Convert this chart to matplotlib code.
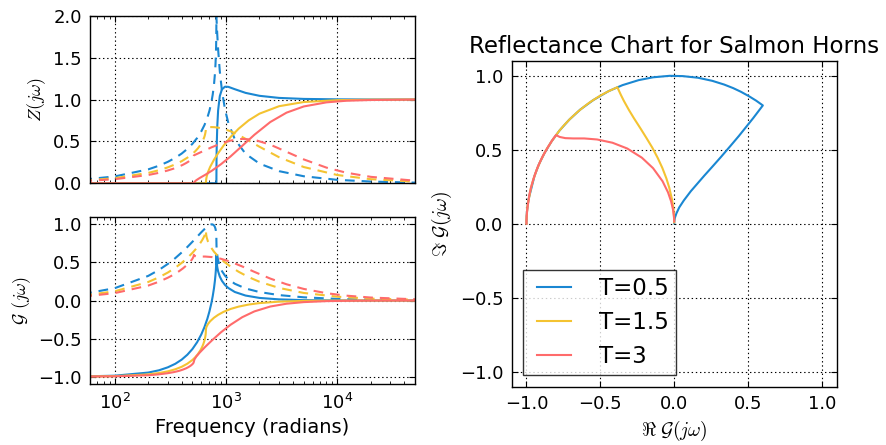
import matplotlib
matplotlib.use('Agg')
import matplotlib.pyplot as plt

# valores (frequência em rad)
T_labels = ['T=0.5', 'T=1.5', 'T=3']
colors = ['#1a87d2', '#f4c331', '#ff6b6b']

# T = 0.5
f_a = [1, 10, 25, 50, 100, 200, 250, 300, 350, 400, 450, 500, 550, 600,
       640, 680, 710, 740, 760, 780, 795, 805, 811, 815, 818, 819.5, 820,
       822, 826, 835, 850, 880, 920, 980, 1050, 1200, 1500, 2000, 3000,
       5000, 10000, 20000, 50000]
reZ_a = [0, 0, 0, 0, 0, 0, 0, 0, 0, 0, 0, 0, 0, 0,
         0, 0, 0, 0, 0, 0, 0, 0, 0, 0, 0, 0, 0,
         0.275, 0.461, 0.681, 0.872, 1.041, 1.122, 1.153, 1.151, 1.123,
         1.079, 1.044, 1.019, 1.007, 1.002, 1.000, 1.000]
imZ_a = [0.001, 0.008, 0.020, 0.041, 0.082, 0.166, 0.210, 0.256, 0.304,
         0.355, 0.411, 0.472, 0.540, 0.620, 0.694, 0.783, 0.866, 0.969,
         1.059, 1.176, 1.302, 1.422, 1.527, 1.628, 1.751, 1.868, 2.000,
         1.966, 1.903, 1.775, 1.597, 1.336, 1.103, 0.881, 0.720, 0.526,
         0.352, 0.235, 0.145, 0.084, 0.041, 0.021, 0.008]
reG_a = [-1.000, -1.000, -0.999, -0.997, -0.987, -0.946, -0.916, -0.877,
         -0.831, -0.776, -0.711, -0.636, -0.548, -0.445, -0.350, -0.240,
         -0.143, -0.031, 0.057, 0.161, 0.258, 0.338, 0.399, 0.452, 0.508,
         0.555, 0.600,
         0.536, 0.492, 0.438, 0.382, 0.314, 0.258, 0.204, 0.164, 0.112,
         0.065, 0.034, 0.015, 0.005, 0.001, 0.000, 0.000]
imG_a = [0.002, 0.016, 0.041, 0.081, 0.162, 0.323, 0.402, 0.480, 0.556,
         0.631, 0.703, 0.772, 0.836, 0.896, 0.937, 0.971, 0.990, 1.000,
         0.998, 0.987, 0.966, 0.941, 0.917, 0.892, 0.861, 0.832, 0.800,
         0.716, 0.661, 0.594, 0.528, 0.449, 0.386, 0.326, 0.280, 0.220,
         0.158, 0.111, 0.071, 0.042, 0.021, 0.010, 0.004]

# T = 1.5
f_b = [1, 10, 25, 50, 100, 200, 250, 300, 350, 400, 450, 500, 530, 560,
       590, 610, 625, 640, 648, 655, 658, 660,
       663, 670, 690, 720, 780, 850, 950, 1100, 1300, 1600, 2000, 3000,
       5000, 10000, 20000, 50000]
reZ_b = [0, 0, 0, 0, 0, 0, 0, 0, 0, 0, 0, 0, 0, 0,
         0, 0, 0, 0, 0, 0, 0, 0,
         0.042, 0.078, 0.136, 0.195, 0.281, 0.359, 0.449, 0.552, 0.652,
         0.751, 0.831, 0.920, 0.970, 0.992, 0.998, 1.000]
imZ_b = [0.001, 0.006, 0.015, 0.030, 0.061, 0.124, 0.156, 0.190, 0.226,
         0.264, 0.306, 0.352, 0.383, 0.418, 0.459, 0.491, 0.520, 0.556,
         0.581, 0.612, 0.632, 0.667,
         0.667, 0.668, 0.669, 0.671, 0.670, 0.664, 0.650, 0.621, 0.576,
         0.510, 0.436, 0.311, 0.194, 0.099, 0.049, 0.020]
reG_b = [-1.000, -1.000, -1.000, -0.998, -0.993, -0.970, -0.952, -0.930,
         -0.903, -0.870, -0.829, -0.780, -0.744, -0.702, -0.652, -0.611,
         -0.574, -0.528, -0.495, -0.456, -0.429, -0.385,
         -0.361, -0.341, -0.307, -0.273, -0.226, -0.188, -0.149, -0.111,
         -0.080, -0.053, -0.034, -0.015, -0.005, -0.001, 0.000, 0.000]
imG_b = [0.001, 0.012, 0.030, 0.061, 0.121, 0.243, 0.305, 0.367, 0.430,
         0.494, 0.559, 0.626, 0.668, 0.712, 0.758, 0.791, 0.819, 0.849,
         0.869, 0.890, 0.903, 0.923,
         0.871, 0.831, 0.770, 0.714, 0.641, 0.580, 0.516, 0.444, 0.377,
         0.307, 0.246, 0.165, 0.099, 0.050, 0.025, 0.010]

# T = 3
f_c = [1, 10, 25, 50, 100, 200, 250, 300, 340, 380, 410, 440, 460, 480,
       495, 505, 511, 515,
       520, 540, 580, 650, 750, 900, 1100, 1400, 1800, 2500, 3500, 5000,
       8000, 12000, 20000, 50000]
reZ_c = [0, 0, 0, 0, 0, 0, 0, 0, 0, 0, 0, 0, 0, 0, 0, 0, 0, 0,
         0.016, 0.036, 0.063, 0.101, 0.152, 0.227, 0.321, 0.447, 0.579,
         0.731, 0.843, 0.917, 0.966, 0.985, 0.994, 0.999]
imZ_c = [0.001, 0.005, 0.012, 0.024, 0.049, 0.099, 0.125, 0.153, 0.176,
         0.201, 0.221, 0.243, 0.259, 0.277, 0.293, 0.307, 0.318, 0.333,
         0.336, 0.346, 0.365, 0.395, 0.432, 0.474, 0.510, 0.530, 0.519,
         0.461, 0.376, 0.285, 0.187, 0.127, 0.077, 0.031]
reG_c = [-1.000, -1.000, -1.000, -0.999, -0.995, -0.981, -0.969, -0.954,
         -0.940, -0.923, -0.907, -0.889, -0.874, -0.857, -0.841, -0.828,
         -0.817, -0.800,
         -0.775, -0.737, -0.684, -0.609, -0.522, -0.418, -0.318, -0.219,
         -0.143, -0.079, -0.042, -0.021, -0.008, -0.004, -0.001, 0.000]
imG_c = [0.001, 0.010, 0.024, 0.049, 0.097, 0.196, 0.247, 0.299, 0.341,
         0.386, 0.421, 0.459, 0.485, 0.515, 0.540, 0.561, 0.577, 0.600,
         0.587, 0.579, 0.577, 0.577, 0.570, 0.548, 0.509, 0.447, 0.376,
         0.288, 0.213, 0.152, 0.096, 0.064, 0.039, 0.016]

freqs = [f_a, f_b, f_c]
reZ = [reZ_a, reZ_b, reZ_c]
imZ = [imZ_a, imZ_b, imZ_c]
reG = [reG_a, reG_b, reG_c]
imG = [imG_a, imG_b, imG_c]

# estilo "clássico"
plt.rcParams['font.family'] = 'DejaVu Sans'
plt.rcParams['mathtext.fontset'] = 'cm'
plt.rcParams['xtick.direction'] = 'in'
plt.rcParams['ytick.direction'] = 'in'
plt.rcParams['xtick.top'] = True
plt.rcParams['ytick.right'] = True
plt.rcParams['xtick.major.size'] = 4
plt.rcParams['ytick.major.size'] = 4
plt.rcParams['xtick.minor.size'] = 2
plt.rcParams['ytick.minor.size'] = 2
plt.rcParams['xtick.major.pad'] = 6
plt.rcParams['ytick.major.pad'] = 6
plt.rcParams['axes.linewidth'] = 1.0
plt.rcParams['lines.scale_dashes'] = False
plt.rcParams['lines.dashed_pattern'] = [7, 5]
plt.rcParams['lines.dotted_pattern'] = [1, 2]
plt.rcParams['xtick.labelsize'] = 13
plt.rcParams['ytick.labelsize'] = 13

fig = plt.figure(figsize=(8.87, 4.45), dpi=100)
ax1 = fig.add_axes([0.1015, 0.5881, 0.3664, 0.3766])
ax2 = fig.add_axes([0.1015, 0.1364, 0.3664, 0.3766])
ax3 = fig.add_axes([0.5769, 0.1310, 0.3664, 0.7319])

for i in range(3):
    ax1.semilogx(freqs[i], reZ[i], '-', color=colors[i], lw=1.5)
    ax1.semilogx(freqs[i], imZ[i], '--', color=colors[i], lw=1.5)
    ax2.semilogx(freqs[i], reG[i], '-', color=colors[i], lw=1.5)
    ax2.semilogx(freqs[i], imG[i], '--', color=colors[i], lw=1.5)
    ax3.plot(reG[i], imG[i], '-', color=colors[i], lw=1.5, label=T_labels[i])

for ax in (ax1, ax2, ax3):
    ax.grid(True, color='k', linestyle=':', linewidth=0.8)

for ax in (ax1, ax2):
    ax.set_xlim(60, 5e4)

ax1.set_ylim(0, 2)
ax1.set_yticks([0, 0.5, 1.0, 1.5, 2.0])
ax1.tick_params(axis='x', which='both', labelbottom=False)
ax1.set_ylabel(r'$Z(j\omega)$', fontsize=13)

ax2.set_ylim(-1.1, 1.1)
ax2.set_yticks([-1.0, -0.5, 0.0, 0.5, 1.0])
ax2.set_ylabel(r'$\mathcal{G}\ (j\omega)$', fontsize=13)
ax2.set_xlabel('Frequency (radians)', fontsize=14)

ax3.set_xlim(-1.1, 1.1)
ax3.set_ylim(-1.1, 1.1)
ax3.set_xticks([-1.0, -0.5, 0.0, 0.5, 1.0])
ax3.set_yticks([-1.0, -0.5, 0.0, 0.5, 1.0])
ax3.set_title('Reflectance Chart for Salmon Horns', fontsize=16.5)
ax3.set_xlabel(r'$\Re\ \mathcal{G}(j\omega)$', fontsize=14)
ax3.set_ylabel(r'$\Im\ \mathcal{G}(j\omega)$', fontsize=14)
leg = ax3.legend(loc='lower left', fontsize=16.5, fancybox=False,
                 numpoints=2, handlelength=2.1, handletextpad=0.9,
                 borderaxespad=0.5, borderpad=0.3, labelspacing=0.49)
leg.get_frame().set_edgecolor('k')
leg.get_frame().set_linewidth(1.0)

fig.savefig('out.png', dpi=100)
